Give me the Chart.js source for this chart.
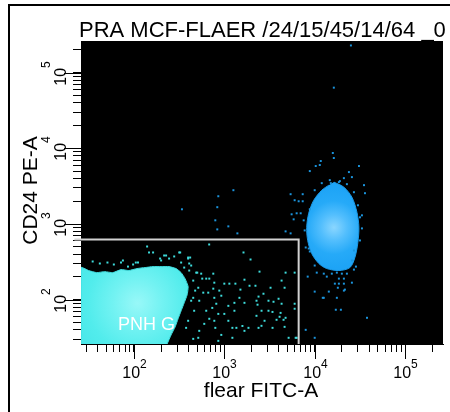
<!DOCTYPE html>
<html>
<head>
<meta charset="utf-8">
<script src="https://cdn.jsdelivr.net/npm/chart.js@4.4.1/dist/chart.umd.min.js"></script>
<style>
  html, body { margin: 0; padding: 0; background: #fff; }
  canvas { display: block; }
</style>
</head>
<body>
<canvas id="plot" width="450" height="412"></canvas>
<script>
  // Axis range and tick layout (both axes share the same log range)
  const axisMin = 26;
  const axisMax = 262144;
  const decades = [10, 100, 1000, 10000, 100000];
  const minorSteps = [2, 3, 4, 5, 6, 7, 8, 9];
  const majorTicks = [100, 1000, 10000, 100000];
  const tickExponents = ['2', '3', '4', '5'];

  const plotTitle = 'PRA MCF-FLAER /24/15/45/14/64 _0';
  const xTitle = 'flear FITC-A';
  const yTitle = 'CD24 PE-A';
  const gateName = 'PNH G';

  // Gate PNH G: top-left corner and bottom-right corner (FITC, PE)
  const gate = [[22, 626], [6640, 626], [6640, 20]];

  // Dense PNH population outline and its density peak
  const pnhArea = [
    [26, 26], [26, 266], [31.6, 243], [38.8, 228], [47.6, 235], [58.4, 228], [72, 250], [88, 243],
    [108, 258], [133, 266], [163, 274], [200, 274], [245, 274], [293, 258], [333, 228], [368, 190],
    [398, 149], [388, 116], [360, 91], [333, 71.5], [308, 56], [286, 43.8], [258, 34.3], [233, 26]
  ];
  const pnhPeak = [110, 90];

  // Dense FLAER+ population outline and its density peak
  const negArea = [
    [16300, 3580], [21000, 3070], [25800, 2260], [29300, 1430], [30800, 904], [30000, 571],
    [27800, 361], [24500, 266], [18500, 243], [13600, 258], [11100, 301], [9260, 408],
    [8360, 607], [8150, 904], [8580, 1390], [9750, 2060], [11960, 2800], [14300, 3260]
  ];
  const negPeak = [16300, 900];

  // Sparse events inside the gate
  const pnhEvents = [
    [680, 537], [1630, 421], [1950, 340], [2450, 235], [4760, 228], [1670, 184], [755, 221], [631, 190], [682, 190], [570, 190],
    [502, 228], [409, 301], [398, 361], [409, 243], [1000, 163], [1137, 163], [1326, 163], [1507, 136], [1900, 153], [2210, 153],
    [3245, 144], [2710, 120], [2390, 110], [2270, 97], [2330, 86], [2580, 71.5], [3080, 97], [3500, 94], [3980, 103], [4300, 88.5],
    [3080, 71.5], [3410, 69], [4085, 59.5], [4520, 54.3], [3782, 54.3], [4760, 57.7], [4190, 67], [4640, 43.8], [2785, 52.7], [2390, 42.5],
    [1850, 42.5], [1586, 45], [1360, 42.5], [1228, 42.5], [1108, 52.7], [1000, 65], [858, 65], [775, 52.7], [795, 42.5], [926, 34.3],
    [1228, 31.4], [1670, 38.8], [858, 28.6], [515, 31.4], [453, 30.4], [528, 38.8], [600, 48], [682, 56], [631, 71.5], [736, 78],
    [815, 88.5], [775, 106], [926, 113], [880, 132], [755, 140], [664, 124], [585, 124], [515, 144], [453, 106], [528, 97],
    [464, 71.5], [398, 52.7], [378, 42.5], [1108, 83], [1293, 71.5], [1469, 106], [1293, 91], [1670, 91], [4640, 144], [4298, 179],
    [5995, 76], [5143, 31.4], [6150, 31.4], [2577, 45.2], [3414, 42.5], [2268, 61.3], [775, 168], [555, 221], [5995, 88.5], [6310, 31.4],
    [5995, 228], [140, 505], [147, 421], [163, 421], [35, 320], [42, 301], [60, 292], [72, 310], [86, 274], [98, 292],
    [111, 310], [200, 330], [216, 384], [245, 350], [279, 373], [317, 421], [333, 310], [398, 350], [360, 266], [430, 283],
    [51, 310], [75.6, 330], [105, 310], [195, 350], [227, 384], [325, 421], [419, 361], [489, 228], [453, 179], [476, 132],
    [430, 97]
  ];

  // Sparse events outside the gate
  const negEvents = [
    [340, 1567], [858, 2330], [1260, 2800], [836, 1670], [795, 1120], [836, 850], [1108, 932], [1395, 753], [4760, 800], [5410, 753],
    [5410, 2479], [7360, 2479], [5995, 2064], [6640, 2000], [7360, 2000], [5552, 1345], [5845, 1154], [6309, 1387], [6990, 1387], [8820, 5010],
    [8820, 1567], [15850, 8690], [16260, 7450], [11660, 6800], [11370, 6020], [10260, 5840], [30840, 5840], [23880, 4860], [25770, 4170], [21010, 4040],
    [18490, 3580], [15060, 3470], [35050, 3265], [35950, 2556], [31640, 1227], [33285, 876], [31640, 607], [27130, 447], [8580, 475], [7740, 824],
    [9990, 283], [12590, 106], [17560, 106], [21010, 132], [25770, 168], [7946, 490], [8820, 434], [10525, 228], [8360, 202], [12590, 221],
    [13594, 202], [15450, 221], [17560, 228], [19950, 221], [22680, 221], [18490, 190], [21010, 190], [16690, 163], [18490, 163], [21010, 163],
    [18010, 144], [21560, 136], [9990, 128], [14310, 128], [12270, 106], [17100, 73.7], [19460, 73.7], [37830, 57.7], [7946, 40], [9990, 31.4],
    [27130, 250], [28550, 274], [25770, 330], [25120, 229000], [16260, 63400], [7546, 1119], [30050, 1771], [33285, 1304],
    [11960, 3470], [14670, 3800], [18970, 3690], [22680, 3366], [9990, 2800], [27130, 2635]
  ];

  const FONT = '"Liberation Sans", Arial, Helvetica, sans-serif';

  const tickValues = [];
  decades.forEach(d => {
    [1].concat(minorSteps).forEach(m => {
      const v = d * m;
      if (v >= axisMin && v <= axisMax) tickValues.push(v);
    });
  });

  const pts = arr => arr.map(([x, y]) => ({ x, y }));

  // radial shading centred on a density peak, placed through the scales
  function radial(chart, peak, radius, stops, fallback) {
    const { ctx, chartArea, scales } = chart;
    if (!chartArea) return fallback;
    const cx = scales.x.getPixelForValue(peak[0]);
    const cy = scales.y.getPixelForValue(peak[1]);
    const g = ctx.createRadialGradient(cx, cy, 0, cx, cy, radius);
    stops.forEach((c, i) => g.addColorStop(i / (stops.length - 1), c));
    return g;
  }

  function area(points, peak, radius, stops, edge, order, tension) {
    return {
      type: 'line',
      data: pts(points),
      fill: 'shape',
      backgroundColor: c => radial(c.chart, peak, radius, stops, edge),
      borderColor: edge,
      borderWidth: 1,
      pointRadius: 0,
      pointHoverRadius: 0,
      tension: tension,
      order: order
    };
  }

  function events(points, color, order) {
    return {
      data: pts(points),
      backgroundColor: color,
      borderColor: color,
      borderWidth: 0,
      pointStyle: 'rect',
      pointRadius: 1.4,
      pointHoverRadius: 1.4,
      order: order
    };
  }

  // Background, plot area and outer frame; axis text on top
  const cytoFrame = {
    id: 'cytoFrame',
    beforeDraw(chart) {
      const { ctx, chartArea: a } = chart;
      ctx.save();
      ctx.fillStyle = '#fff';
      ctx.fillRect(0, 0, chart.width, chart.height);
      ctx.fillStyle = '#000';
      ctx.fillRect(a.left, a.top, a.right - a.left, a.bottom - a.top);
      ctx.fillRect(8, 4, chart.width - 8, 2);
      ctx.fillRect(8, 4, 2, chart.height - 4);
      ctx.restore();
    },
    afterDraw(chart) {
      const { ctx, chartArea: a, scales: { x, y } } = chart;
      ctx.save();
      ctx.fillStyle = '#000';
      ctx.strokeStyle = '#000';
      ctx.lineWidth = 1;
      ctx.textAlign = 'left';
      ctx.textBaseline = 'alphabetic';

      majorTicks.forEach((v, i) => {
        ctx.font = '16px ' + FONT;
        const wb = ctx.measureText('10').width;
        ctx.font = '12px ' + FONT;
        const ws = ctx.measureText(tickExponents[i]).width;
        const half = (wb + ws) / 2;

        // x axis
        const px = Math.round(x.getPixelForValue(v)) + 0.5;
        ctx.beginPath();
        ctx.moveTo(px, a.bottom);
        ctx.lineTo(px, a.bottom + 15);
        ctx.stroke();
        ctx.font = '16px ' + FONT;
        ctx.fillText('10', px - half, a.bottom + 34);
        ctx.font = '12px ' + FONT;
        ctx.fillText(tickExponents[i], px - half + wb, a.bottom + 24);

        // y axis
        const py = Math.round(y.getPixelForValue(v)) + 0.5;
        ctx.beginPath();
        ctx.moveTo(a.left, py);
        ctx.lineTo(a.left - 17, py);
        ctx.stroke();
        ctx.save();
        ctx.translate(a.left - 15, py);
        ctx.rotate(-Math.PI / 2);
        ctx.font = '16px ' + FONT;
        ctx.fillText('10', -half, 0);
        ctx.font = '12px ' + FONT;
        ctx.fillText(tickExponents[i], -half + wb, -16);
        ctx.restore();
      });

      // titles
      ctx.font = '22px ' + FONT;
      ctx.fillText(plotTitle, 79, 37);

      ctx.font = '21px ' + FONT;
      ctx.textAlign = 'center';
      ctx.fillText(xTitle, (a.left + a.right) / 2 - 1, 397);
      ctx.save();
      ctx.translate(37, (a.top + a.bottom) / 2 - 2);
      ctx.rotate(-Math.PI / 2);
      ctx.fillText(yTitle, 0, 0);
      ctx.restore();

      // gate label
      ctx.textAlign = 'left';
      ctx.fillStyle = '#fff';
      ctx.font = '18px ' + FONT;
      ctx.fillText(gateName, 118, 330);
      ctx.restore();
    }
  };

  const axis = (size, horizontal) => ({
    type: 'logarithmic',
    min: axisMin,
    max: axisMax,
    afterBuildTicks: s => { s.ticks = tickValues.map(v => ({ value: v })); },
    afterFit: s => { if (horizontal) s.height = size; else s.width = size; },
    ticks: { display: false },
    grid: { display: true, drawOnChartArea: false, drawTicks: true, tickLength: 8, color: '#000', lineWidth: 1 },
    border: { display: true, color: '#000', width: 1 }
  });

  new Chart(document.getElementById('plot'), {
    type: 'scatter',
    data: {
      datasets: [
        {
          type: 'line',
          data: pts(gate),
          borderColor: '#d2d2d2',
          borderWidth: 2,
          pointRadius: 0,
          pointHoverRadius: 0,
          fill: false,
          clip: { left: 8, top: 0, right: 0, bottom: 0 },
          order: 0
        },
        events(negEvents, '#1b94dc', 1),
        events(pnhEvents, '#3edcdc', 2),
        area(negArea, negPeak, 40, ['#8ad6ff', '#52befd', '#26aaf8', '#1ea4f6'], '#1a9ae8', 3, 0.3),
        area(pnhArea, pnhPeak, 75, ['#98f8f8', '#72f2f2', '#52ecec', '#46e6e8'], '#40dcde', 4, 0.15)
      ]
    },
    options: {
      responsive: false,
      animation: false,
      events: [],
      layout: { padding: { top: 41, right: 7, bottom: 0, left: 0 } },
      plugins: {
        legend: { display: false },
        tooltip: { enabled: false }
      },
      scales: {
        x: axis(68, true),
        y: axis(81, false)
      }
    },
    plugins: [cytoFrame]
  });
</script>
</body>
</html>
